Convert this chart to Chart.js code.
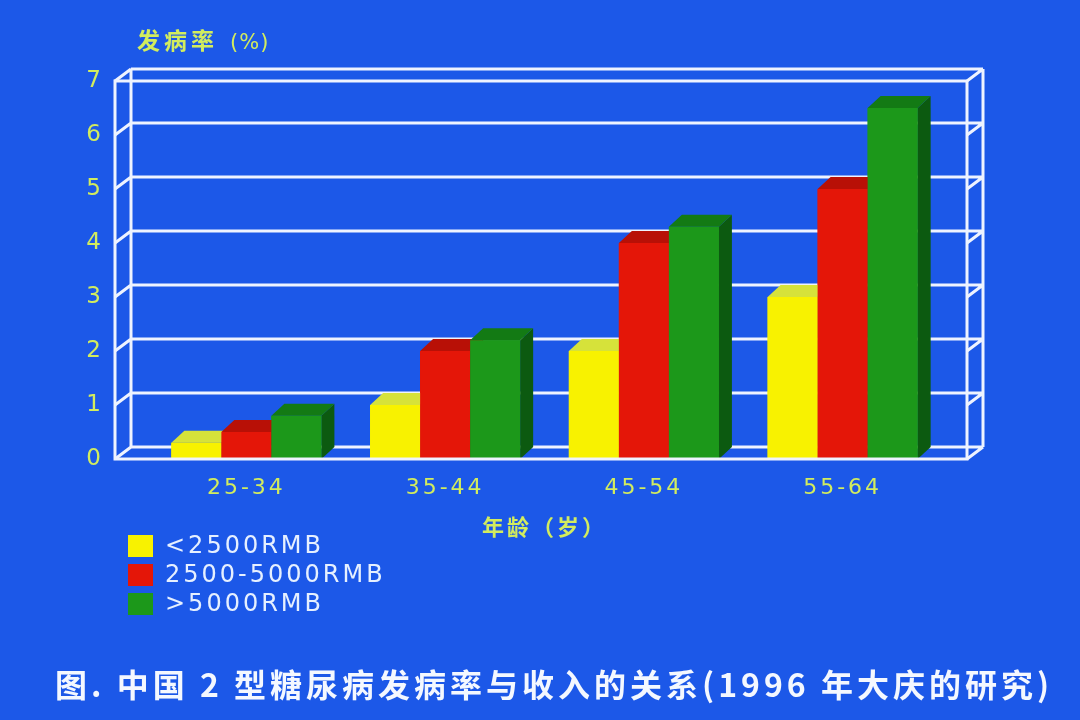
<!DOCTYPE html>
<html>
<head>
<meta charset="utf-8">
<script src="https://cdn.jsdelivr.net/npm/chart.js@4/dist/chart.umd.min.js"></script>
<style>
html, body { margin: 0; padding: 0; background: #1c58e8; width: 1080px; height: 720px; overflow: hidden; }
#wrap { position: relative; width: 1080px; height: 720px; }
#chart { position: absolute; left: 0; top: 0; }
.ytitle { position: absolute; left: 137px; top: 22px; color: #d2ec5e; font: bold 23px "Noto Sans CJK SC"; letter-spacing: 4px; white-space: nowrap; }
.ytitle span { font: 21px "DejaVu Sans"; letter-spacing: 1px; margin-left: 12px; }
.legend { position: absolute; left: 128px; top: 534px; }
.legend div { height: 29px; position: relative; }
.legend i { position: absolute; left: 0; top: 1px; width: 25px; height: 22px; }
.legend b { position: absolute; left: 37px; top: -3px; font: 24px "DejaVu Sans"; letter-spacing: 3px; color: #e6f0ff; white-space: nowrap; font-weight: normal; }
.caption { position: absolute; left: 14px; width: 1080px; top: 660px; text-align: center; color: #f4f8ff; font: bold 32px "Noto Sans CJK SC"; letter-spacing: 4px; white-space: nowrap; }
</style>
</head>
<body>
<div id="wrap">
  <canvas id="chart" width="1080" height="720"></canvas>
  <div class="ytitle">发病率<span>(%)</span></div>
  <div class="legend" id="legend"></div>
  <div class="caption">图. 中国 2 型糖尿病发病率与收入的关系(1996 年大庆的研究)</div>
</div>
<script>
// данные
const ageGroups = ['25-34', '35-44', '45-54', '55-64'];
const lowIncome = [0.3, 1.0, 2.0, 3.0];
const midIncome = [0.5, 2.0, 4.0, 5.0];
const highIncome = [0.8, 2.2, 4.3, 6.5];
const yTicks = [0, 1, 2, 3, 4, 5, 6, 7];
const seriesNames = ['<2500RMB', '2500-5000RMB', '>5000RMB'];

// цвета: лицевая грань, верх, бок
const faceColors = ['#f8f200', '#e41608', '#1c981a'];
const topColors = ['#d6e23a', '#b81006', '#137a14'];
const sideColors = ['#b8c020', '#8e0c04', '#0c5a10'];

const FX = 16, FY = 12;   // глубина рамки
const BX = 13, BY = 12;   // глубина столбиков

function frameEdges(chart) {
    const { chartArea, scales: { y } } = chart;
    return {
        L: chartArea.left - 32,
        R: chartArea.right + 25,
        yTop: y.getPixelForValue(yTicks[yTicks.length - 1]),
        yBot: y.getPixelForValue(0)
    };
}

const frame3d = {
    id: 'frame3d',
    beforeDraw(chart) {
        chart.ctx.letterSpacing = '3px';
    },
    beforeDatasetsDraw(chart) {
        const { ctx, scales: { y } } = chart;
        const { L, R, yTop, yBot } = frameEdges(chart);
        ctx.save();
        ctx.strokeStyle = '#eef3ff';
        ctx.lineWidth = 3;
        ctx.beginPath();
        yTicks.forEach(v => {
            const yy = y.getPixelForValue(v);
            ctx.moveTo(L + FX, yy - FY);
            ctx.lineTo(R + FX, yy - FY);
            ctx.moveTo(L, yy);
            ctx.lineTo(L + FX, yy - FY);
            ctx.moveTo(R, yy);
            ctx.lineTo(R + FX, yy - FY);
        });
        ctx.moveTo(L + FX, yTop - FY);
        ctx.lineTo(L + FX, yBot - FY);
        ctx.moveTo(R + FX, yTop - FY);
        ctx.lineTo(R + FX, yBot - FY);
        ctx.stroke();
        ctx.restore();
    },
    afterDatasetsDraw(chart) {
        const ctx = chart.ctx;
        ctx.save();
        // столбики слева направо: бок, верх, лицевая грань
        chart.data.datasets.forEach((ds, i) => {
            chart.getDatasetMeta(i).data.forEach(bar => {
                const p = bar.getProps(['x', 'y', 'base', 'width'], true);
                const x0 = p.x - p.width / 2, x1 = p.x + p.width / 2;
                ctx.fillStyle = sideColors[i];
                ctx.beginPath();
                ctx.moveTo(x1, p.y);
                ctx.lineTo(x1 + BX, p.y - BY);
                ctx.lineTo(x1 + BX, p.base - BY);
                ctx.lineTo(x1, p.base);
                ctx.closePath();
                ctx.fill();
                ctx.fillStyle = topColors[i];
                ctx.beginPath();
                ctx.moveTo(x0, p.y);
                ctx.lineTo(x0 + BX, p.y - BY);
                ctx.lineTo(x1 + BX, p.y - BY);
                ctx.lineTo(x1, p.y);
                ctx.closePath();
                ctx.fill();
                ctx.fillStyle = faceColors[i];
                ctx.fillRect(x0, p.y, x1 - x0, p.base - p.y);
            });
        });
        const { L, R, yTop, yBot } = frameEdges(chart);
        ctx.strokeStyle = '#eef3ff';
        ctx.lineWidth = 3;
        ctx.strokeRect(L, yTop, R - L, yBot - yTop);
        ctx.restore();
    },
    afterDraw(chart) {
        chart.ctx.letterSpacing = '0px';
    }
};

const datasets = [lowIncome, midIncome, highIncome].map((vals, i) => ({
    label: seriesNames[i],
    data: vals,
    backgroundColor: faceColors[i],
    borderWidth: 0
}));

new Chart(document.getElementById('chart'), {
    type: 'bar',
    data: { labels: ageGroups, datasets: datasets },
    options: {
        responsive: false,
        devicePixelRatio: 1,
        animation: false,
        layout: { padding: { left: 77, right: 138, top: 81, bottom: 180 } },
        categoryPercentage: 0.755,
        barPercentage: 1.0,
        plugins: {
            legend: { display: false },
            tooltip: { enabled: false }
        },
        scales: {
            x: {
                grid: { display: false, drawTicks: false },
                border: { display: false },
                ticks: { color: '#d2ec5e', font: { family: 'DejaVu Sans', size: 22 }, padding: 16 },
                title: {
                    display: true,
                    text: '年龄（岁）',
                    color: '#d2ec5e',
                    font: { family: 'Noto Sans CJK SC', size: 22, weight: 'bold' },
                    padding: { top: 0, bottom: 0 }
                },
                afterFit(scale) { scale.height = 81; }
            },
            y: {
                min: 0,
                max: 7,
                grid: { display: false, drawTicks: false },
                border: { display: false },
                afterBuildTicks(scale) { scale.ticks = yTicks.map(v => ({ value: v })); },
                ticks: { color: '#d2ec5e', font: { family: 'DejaVu Sans', size: 23 }, padding: 43 },
                afterFit(scale) { scale.width = 70; }
            }
        }
    },
    plugins: [frame3d]
});

// легенда
const legend = document.getElementById('legend');
seriesNames.forEach((name, i) => {
    const row = document.createElement('div');
    const sw = document.createElement('i');
    sw.style.background = faceColors[i];
    const tx = document.createElement('b');
    tx.textContent = name;
    row.appendChild(sw);
    row.appendChild(tx);
    legend.appendChild(row);
});
</script>
</body>
</html>
